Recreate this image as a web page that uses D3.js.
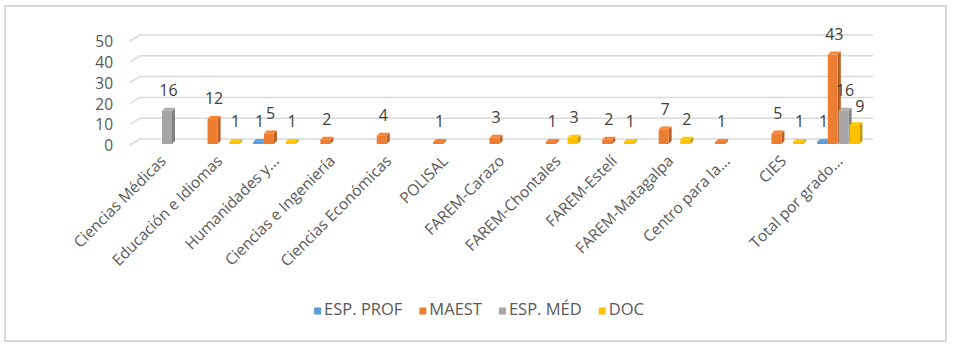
<!DOCTYPE html>
<html><head><meta charset="utf-8">
<script src="https://cdn.jsdelivr.net/npm/d3@7/dist/d3.min.js"></script>
<style>body{margin:0;background:#fff;} svg{display:block;font-family:"Open Sans",sans-serif;}</style>
</head><body>
<svg id="chart" width="954" height="350"></svg>
<script>
const categories = ["Ciencias Médicas","Educación e Idiomas","Humanidades y...","Ciencias e Ingeniería","Ciencias Económicas","POLISAL","FAREM-Carazo","FAREM-Chontales","FAREM-Estelí","FAREM-Matagalpa","Centro para la...","CIES","Total por grado..."];
const seriesNames = ["ESP. PROF","MAEST","ESP. MÉD","DOC"];
const espProf = [null,null,1,null,null,null,null,null,null,null,null,null,1];
const maest   = [null,12,5,2,4,1,3,1,2,7,1,5,43];
const espMed  = [16,null,null,null,null,null,null,null,null,null,null,null,16];
const doc     = [null,1,1,null,null,null,null,3,1,2,null,1,9];
const yTicks = [0,10,20,30,40,50];
const colors = ["#5B9BD5","#ED7D31","#A5A5A5","#FFC000"];
const seriesValues = [espProf, maest, espMed, doc];

const svg = d3.select("#chart");
// outer border
svg.append("rect").attr("x",5).attr("y",6).attr("width",941).attr("height",335)
  .attr("fill","#fff").attr("stroke","#d9d9d9").attr("stroke-width",2);

const y = d3.scaleLinear().domain([0,50]).range([144,40]);
const x0 = d3.scaleBand().domain(categories).range([140.4, 860.2]).paddingInner(0.234).paddingOuter(0);
const x1 = d3.scaleBand().domain(seriesNames).range([0, x0.bandwidth()]);

// back wall gridlines with floor diagonal
const grid = svg.append("g");
yTicks.forEach(t => {
  const yy = y(t);
  grid.append("path")
    .attr("d", `M130,${yy+1}L140,${yy-5}L873,${yy-5}`)
    .attr("fill","none").attr("stroke","#d9d9d9").attr("stroke-width",1.5);
});
// y tick labels
svg.append("g").selectAll("text").data(yTicks).join("text")
  .attr("x",113).attr("y",d=>y(d)+3).attr("text-anchor","end")
  .attr("dominant-baseline","middle").attr("font-size",15.5).attr("fill","#595959").text(d=>d);

// bars (3D style)
const dx = 3, dy = 3, fw = 10;
const bars = svg.append("g");
const labels = [];
categories.forEach((c,ci) => {
  seriesNames.forEach((s,si) => {
    const v = seriesValues[si][ci];
    if (v == null) return;
    const xl = x0(c) + x1(s);
    const yt = y(v), yb = y(0);
    const col = d3.color(colors[si]);
    bars.append("path")
      .attr("d",`M${xl+fw},${yb}L${xl+fw+dx},${yb-dy}L${xl+fw+dx},${yt-dy}L${xl+fw},${yt}Z`)
      .attr("fill", col.darker(0.7));
    bars.append("path")
      .attr("d",`M${xl},${yt}L${xl+dx},${yt-dy}L${xl+fw+dx},${yt-dy}L${xl+fw},${yt}Z`)
      .attr("fill", col.brighter(0.15));
    bars.append("rect").attr("x",xl).attr("y",yt).attr("width",fw).attr("height",Math.max(0.5,yb-yt))
      .attr("fill", col);
    // small nudge for the crowded total group so labels don't collide
    const nudge = (ci === categories.length-1 && si === 3) ? 4 : 0;
    labels.push({x: xl + (fw+dx)/2 + nudge, y: yt - 19 + (nudge ? 1 : 0), v});
  });
});
svg.append("g").selectAll("text").data(labels).join("text")
  .attr("x",d=>d.x).attr("y",d=>d.y).attr("text-anchor","middle").attr("dominant-baseline","middle")
  .attr("font-size",16).attr("fill","#404040").text(d=>d.v);

// x labels
svg.append("g").selectAll("text").data(categories).join("text")
  .attr("transform",d=>`translate(${x0(d)+x0.bandwidth()/2+5},162) rotate(-45)`)
  .attr("text-anchor","end").attr("font-size",15.5).attr("fill","#595959").text(d=>d);

// legend
const leg = svg.append("g");
let lx = 0;
seriesNames.forEach((s,i) => {
  const g = leg.append("g");
  g.append("rect").attr("x",0).attr("y",-3.5).attr("width",7).attr("height",7).attr("fill",colors[i]);
  const t = g.append("text").attr("x",10).attr("y",0).attr("dominant-baseline","middle")
    .attr("font-size",16.5).attr("fill","#595959").text(s);
  const w = 10 + t.node().getComputedTextLength();
  g.attr("transform",`translate(${lx},311)`);
  lx += w + 17;
});
const totalW = lx - 17;
leg.attr("transform",`translate(${479 - totalW/2},0)`);
</script>
</body></html>
